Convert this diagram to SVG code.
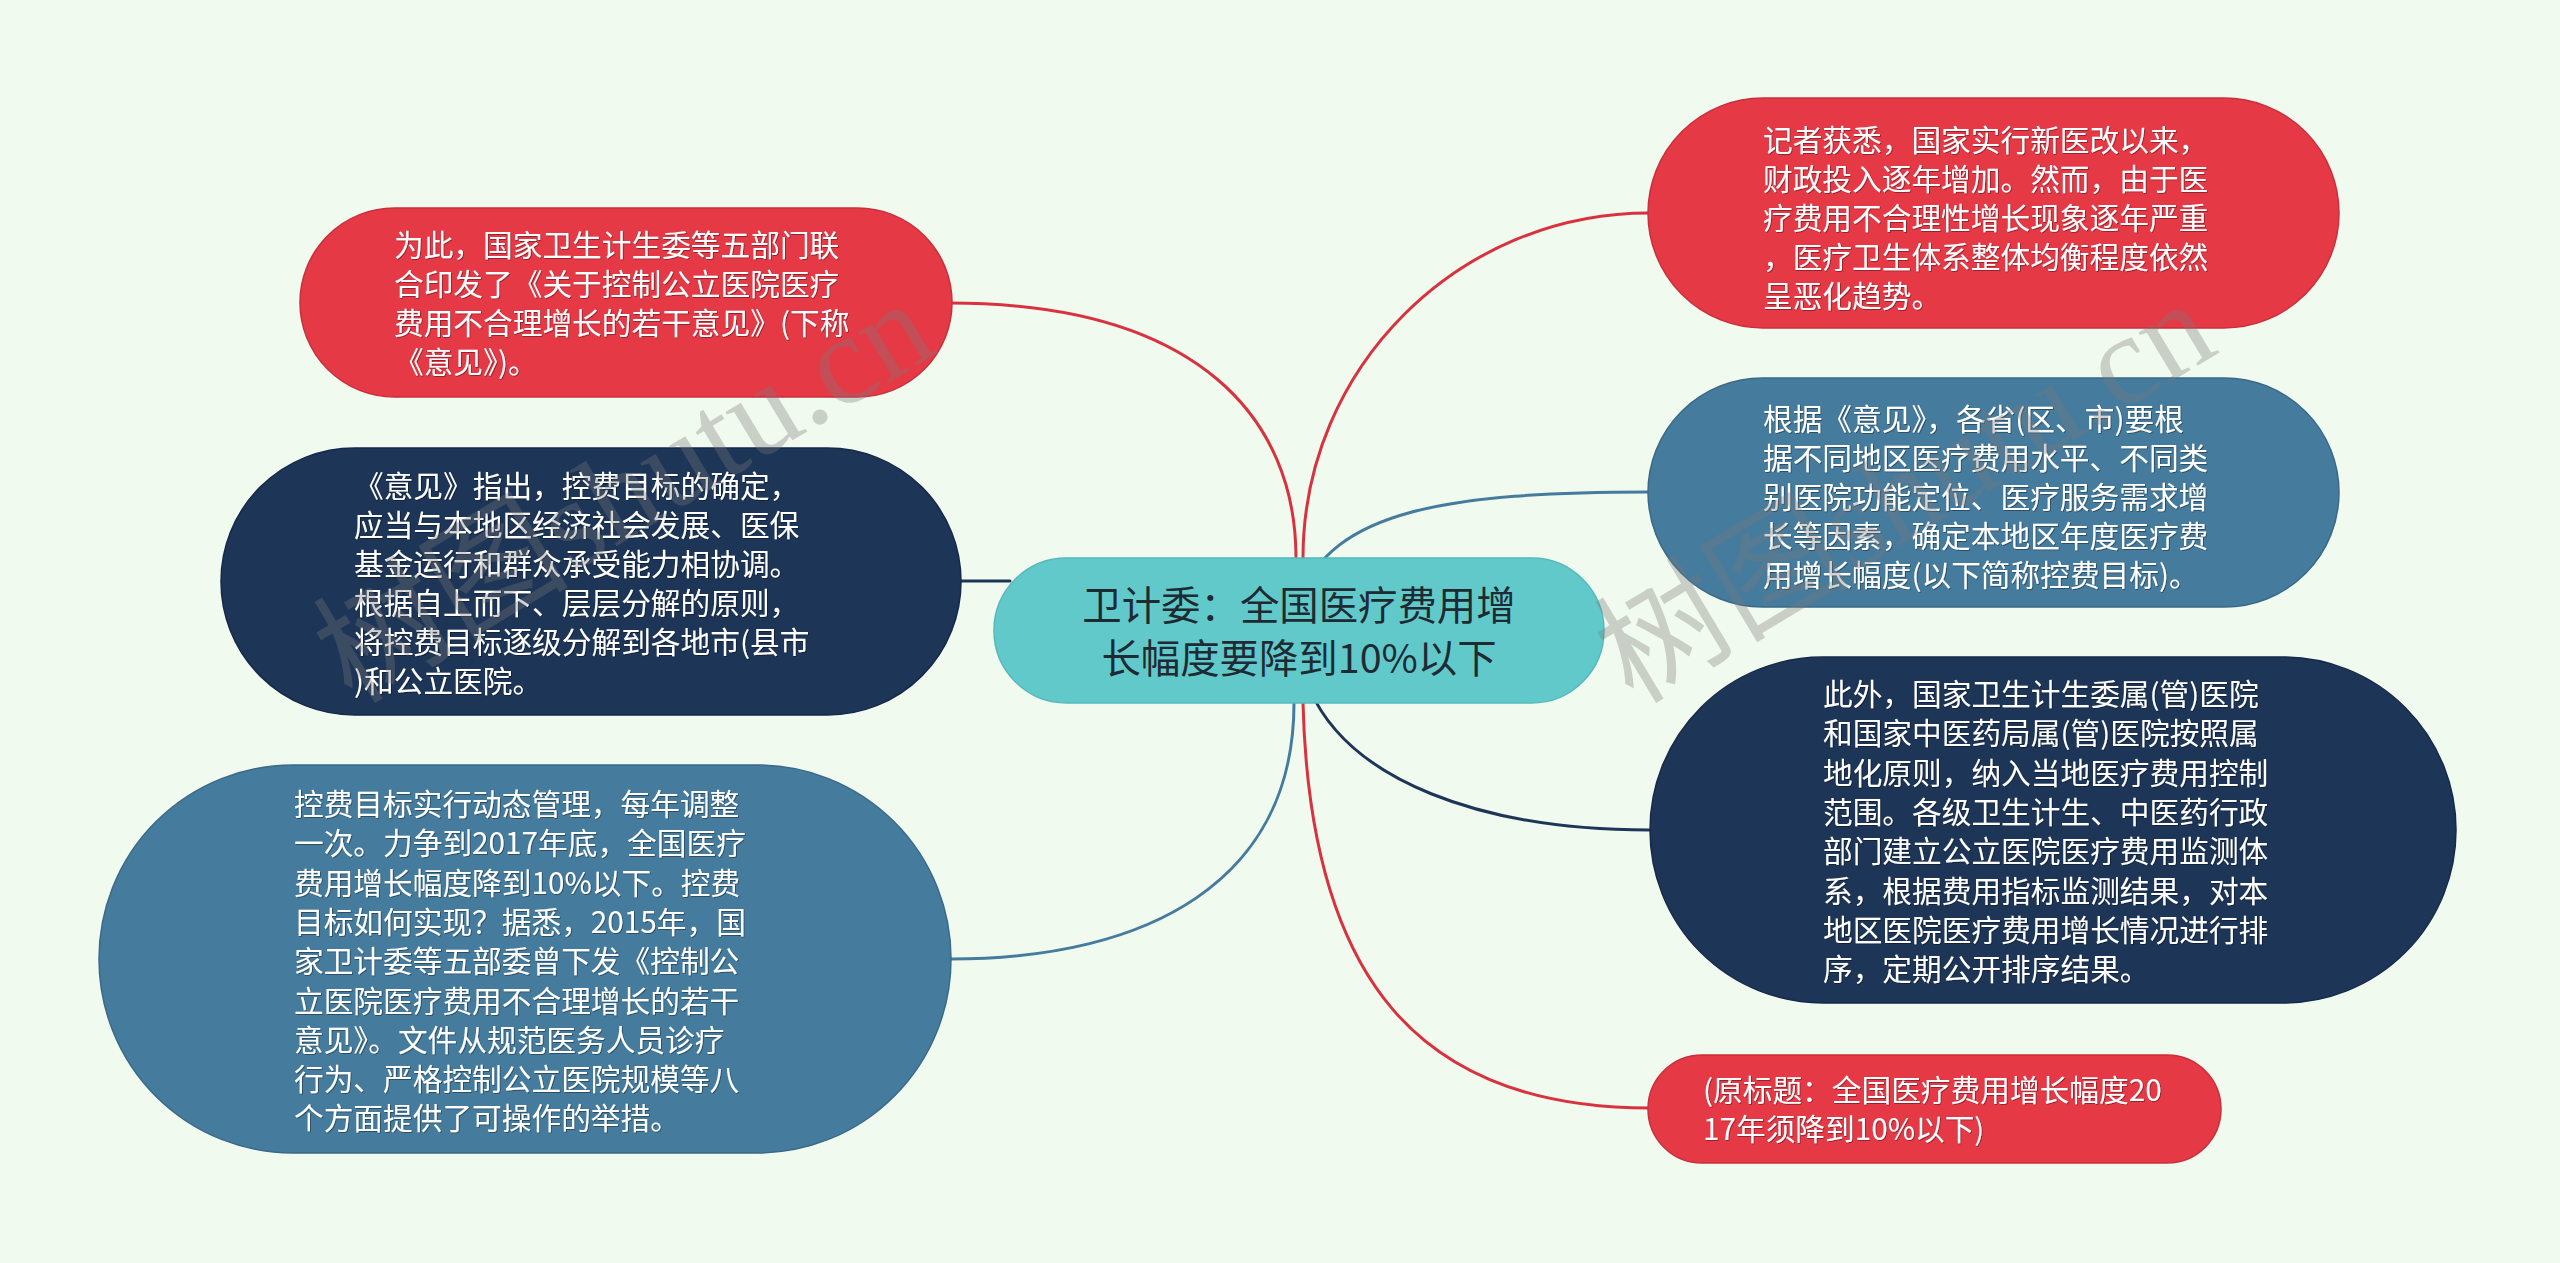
<svg xmlns="http://www.w3.org/2000/svg" width="2560" height="1263" viewBox="0 0 2560 1263">
<defs>
<style>
.bg{fill:#F1FAEE}
.red{fill:#E63946;stroke:#C92F3C;stroke-width:1.5}
.navy{fill:#1D3557;stroke:#16294A;stroke-width:1.5}
.steel{fill:#457B9D;stroke:#3A6A89;stroke-width:1.5}
.center{fill:#62C9CB;stroke:#55B9BC;stroke-width:1.5}
.t{font-family:"Noto Sans CJK SC","Noto Sans",sans-serif;font-size:29.7px;fill:#FFFFFF;filter:url(#sh)}
.ct{font-family:"Noto Sans CJK SC","Noto Sans",sans-serif;font-size:39.4px;fill:#1E2B33;text-anchor:middle}
.c{fill:none;stroke-width:3;stroke-linecap:round}
.cr{stroke:#D9323F}
.cn{stroke:#1D3557}
.cs{stroke:#457B9D}
.wm{font-family:"Liberation Serif","Noto Sans CJK SC",serif;font-size:128px;fill:#7A7A7A;fill-opacity:0.33}
</style>
<filter id="sh" x="-5%" y="-20%" width="110%" height="140%">
<feDropShadow dx="0.8" dy="0.8" stdDeviation="0.6" flood-color="#000" flood-opacity="0.45"/>
</filter>
</defs>
<rect class="bg" x="0" y="0" width="2560" height="1263"/>
<g id="connectors">
<path class="c cr" d="M1296 600 L1296 558 C1296 420 1200 303 949 303"/>
<path class="c cr" d="M1303 600 L1303 558 C1303 368 1458 213 1649 213"/>
<path class="c cs" d="M1300 600 C1330 510 1450 492 1649 492"/>
<path class="c cn" d="M955 581 L1010 581"/>
<path class="c cs" d="M1294 660 L1294 703 C1294 880 1150 959 951 959"/>
<path class="c cr" d="M1303 660 L1303 703 C1310 980 1420 1108 1649 1108"/>
<path class="c cn" d="M1310 690 C1350 780 1480 830 1649 830"/>
</g>
<g id="node-a">
<rect class="red" x="300" y="208" width="652" height="189" rx="94.5"/>
<text class="t" x="394" y="256"><tspan x="394">为此，国家卫生计生委等五部门联</tspan><tspan x="394" dy="39">合印发了《关于控制公立医院医疗</tspan><tspan x="394" dy="39">费用不合理增长的若干意见》(下称</tspan><tspan x="394" dy="39">《意见》)。</tspan></text>
</g>
<g id="node-b">
<rect class="navy" x="221" y="448" width="740" height="267" rx="133.5"/>
<text class="t" x="354" y="497"><tspan x="354">《意见》指出，控费目标的确定，</tspan><tspan x="354" dy="39">应当与本地区经济社会发展、医保</tspan><tspan x="354" dy="39">基金运行和群众承受能力相协调。</tspan><tspan x="354" dy="39">根据自上而下、层层分解的原则，</tspan><tspan x="354" dy="39">将控费目标逐级分解到各地市(县市</tspan><tspan x="354" dy="39">)和公立医院。</tspan></text>
</g>
<g id="node-c">
<rect class="steel" x="99" y="765" width="852" height="388" rx="194"/>
<text class="t" x="294" y="815"><tspan x="294">控费目标实行动态管理，每年调整</tspan><tspan x="294" dy="39.3">一次。力争到2017年底，全国医疗</tspan><tspan x="294" dy="39.3">费用增长幅度降到10%以下。控费</tspan><tspan x="294" dy="39.3">目标如何实现？据悉，2015年，国</tspan><tspan x="294" dy="39.3">家卫计委等五部委曾下发《控制公</tspan><tspan x="294" dy="39.3">立医院医疗费用不合理增长的若干</tspan><tspan x="294" dy="39.3">意见》。文件从规范医务人员诊疗</tspan><tspan x="294" dy="39.3">行为、严格控制公立医院规模等八</tspan><tspan x="294" dy="39.3">个方面提供了可操作的举措。</tspan></text>
</g>
<g id="node-center">
<rect class="center" x="994" y="558" width="610" height="145" rx="72.5"/>
<text class="ct" x="1299" y="620"><tspan x="1299">卫计委：全国医疗费用增</tspan><tspan x="1299" dy="53">长幅度要降到10%以下</tspan></text>
</g>
<g id="node-d">
<rect class="red" x="1648" y="98" width="691" height="230" rx="115"/>
<text class="t" x="1763" y="151"><tspan x="1763">记者获悉，国家实行新医改以来，</tspan><tspan x="1763" dy="39">财政投入逐年增加。然而，由于医</tspan><tspan x="1763" dy="39">疗费用不合理性增长现象逐年严重</tspan><tspan x="1763" dy="39">，医疗卫生体系整体均衡程度依然</tspan><tspan x="1763" dy="39">呈恶化趋势。</tspan></text>
</g>
<g id="node-e">
<rect class="steel" x="1648" y="378" width="691" height="229" rx="114.5"/>
<text class="t" x="1763" y="430"><tspan x="1763">根据《意见》，各省(区、市)要根</tspan><tspan x="1763" dy="39">据不同地区医疗费用水平、不同类</tspan><tspan x="1763" dy="39">别医院功能定位、医疗服务需求增</tspan><tspan x="1763" dy="39">长等因素，确定本地区年度医疗费</tspan><tspan x="1763" dy="39">用增长幅度(以下简称控费目标)。</tspan></text>
</g>
<g id="node-f">
<rect class="navy" x="1650" y="657" width="806" height="346" rx="173"/>
<text class="t" x="1823" y="705"><tspan x="1823">此外，国家卫生计生委属(管)医院</tspan><tspan x="1823" dy="39.3">和国家中医药局属(管)医院按照属</tspan><tspan x="1823" dy="39.3">地化原则，纳入当地医疗费用控制</tspan><tspan x="1823" dy="39.3">范围。各级卫生计生、中医药行政</tspan><tspan x="1823" dy="39.3">部门建立公立医院医疗费用监测体</tspan><tspan x="1823" dy="39.3">系，根据费用指标监测结果，对本</tspan><tspan x="1823" dy="39.3">地区医院医疗费用增长情况进行排</tspan><tspan x="1823" dy="39.3">序，定期公开排序结果。</tspan></text>
</g>
<g id="node-g">
<rect class="red" x="1648" y="1055" width="573" height="108" rx="54"/>
<text class="t" x="1703" y="1101"><tspan x="1703">(原标题：全国医疗费用增长幅度20</tspan><tspan x="1703" dy="39">17年须降到10%以下)</tspan></text>
</g>
<g id="watermark">
<text class="wm" x="352" y="705" transform="rotate(-31 352 705)">树图shutu.cn</text>
<text class="wm" x="1633" y="705" transform="rotate(-31 1633 705)">树图shutu.cn</text>
</g>
</svg>
